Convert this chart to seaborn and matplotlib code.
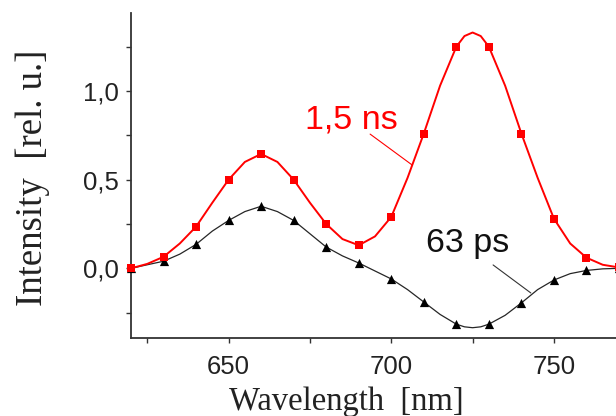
import numpy as np
import pandas as pd
import matplotlib
matplotlib.use("Agg")
import matplotlib.pyplot as plt
from matplotlib.ticker import FixedLocator
import seaborn as sns

# ---- data ----
# measured points (markers, every 10 nm)
marker_wavelength = [620, 630, 640, 650, 660, 670, 680, 690, 700, 710, 720, 730, 740, 750, 760, 770]
marker_15ns = [0.00, 0.065, 0.235, 0.50, 0.645, 0.50, 0.25, 0.13, 0.29, 0.76, 1.25, 1.25,
               0.76, 0.28, 0.06, 0.005]
marker_63ps = [0.00, 0.04, 0.135, 0.27, 0.35, 0.27, 0.12, 0.03, -0.06, -0.19, -0.315, -0.315,
               -0.195, -0.066, -0.012, 0.0]
# smooth curves
curve_wavelength = [620, 625, 630, 635, 640, 645, 650, 655, 660, 665, 670, 675, 680, 685, 690,
                    695, 700, 705, 710, 715, 720, 722.5, 725, 727.5, 730, 735, 740, 745, 750,
                    755, 760, 765, 770]
curve_15ns = [0.00, 0.025, 0.065, 0.14, 0.235, 0.37, 0.50, 0.60, 0.645, 0.60, 0.50, 0.37,
              0.25, 0.165, 0.13, 0.18, 0.29, 0.51, 0.76, 1.03, 1.25, 1.31, 1.33, 1.31, 1.25,
              1.03, 0.76, 0.51, 0.28, 0.14, 0.06, 0.02, 0.005]
curve_63ps = [0.00, 0.02, 0.04, 0.08, 0.135, 0.21, 0.27, 0.32, 0.35, 0.32, 0.27, 0.195,
              0.12, 0.07, 0.03, -0.015, -0.06, -0.12, -0.19, -0.26, -0.315, -0.33, -0.335,
              -0.33, -0.315, -0.265, -0.195, -0.12, -0.066, -0.03, -0.012, -0.003, 0.0]
x_major = [650, 700, 750]
x_minor = [625, 675, 725, 775]
y_major = [0.0, 0.5, 1.0]
y_major_labels = ["0,0", "0,5", "1,0"]
y_minor = [-0.25, 0.25, 0.75, 1.25]
label_red = "1,5 ns"
label_black = "63 ps"

curves = pd.DataFrame({"wavelength": curve_wavelength, "ns": curve_15ns, "ps": curve_63ps})
points = pd.DataFrame({"wavelength": marker_wavelength, "ns": marker_15ns, "ps": marker_63ps})

sns.set_style("ticks")
plt.rcParams["font.family"] = ["Liberation Sans", "DejaVu Sans"]
serif = ["Liberation Serif", "DejaVu Serif"]

fig = plt.figure(figsize=(6.16, 4.16), dpi=100)
ax = fig.add_axes([131 / 616, 1 - 338 / 416, (619 - 131) / 616, (338 - 13) / 416])

sns.lineplot(data=curves, x="wavelength", y="ps", ax=ax, color="#262626", lw=0.9,
             clip_on=False, zorder=3)
sns.scatterplot(data=points, x="wavelength", y="ps", ax=ax, color="black", marker="^",
                s=44, linewidth=0, clip_on=False, zorder=4)
sns.lineplot(data=curves, x="wavelength", y="ns", ax=ax, color="#ff0000", lw=1.4,
             clip_on=False, zorder=5)
sns.scatterplot(data=points, x="wavelength", y="ns", ax=ax, color="#ff0000", marker="s",
                s=32, linewidth=0, clip_on=False, zorder=6)

ax.set_xlim(620, 770)
ax.set_ylim(-0.393, 1.44)

ax.xaxis.set_major_locator(FixedLocator(x_major))
ax.xaxis.set_minor_locator(FixedLocator(x_minor))
ax.yaxis.set_major_locator(FixedLocator(y_major))
ax.yaxis.set_minor_locator(FixedLocator(y_minor))
ax.set_yticklabels(y_major_labels)

ax.tick_params(axis="both", which="both", direction="out", length=3.6, width=1.0,
               color="#333333", labelcolor="#222222", labelsize=18.5)
ax.tick_params(axis="x", which="both", pad=9)
ax.tick_params(axis="y", which="both", pad=5)
for s in ["top", "right"]:
    ax.spines[s].set_visible(False)
for s in ["left", "bottom"]:
    ax.spines[s].set_color("#333333")
    ax.spines[s].set_linewidth(1.3)

ax.set_xlabel("Wavelength  [nm]", family=serif, fontsize=23.5, color="#222222")
ax.xaxis.set_label_coords((346.5 - 131) / 488, -0.149, transform=ax.transAxes)
ax.xaxis.label.set_va("top")
ax.set_ylabel("Intensity  [rel. u.]", family=serif, fontsize=26.5, color="#222222")
ax.yaxis.set_label_coords(-(131 - 32.5) / 488, (338 - 177.5) / 325, transform=ax.transAxes)
ax.yaxis.label.set_va("center")

# labels with leader lines
ax.text(673.5, 0.79, label_red, color="#ff0000", fontsize=24.5, ha="left", va="baseline")
ax.annotate("", xy=(706.4, 0.583), xytext=(693.5, 0.757),
            arrowprops=dict(arrowstyle="-", color="#ff0000", lw=0.8, shrinkA=0, shrinkB=0))
ax.text(710.7, 0.094, label_black, color="#111111", fontsize=24.5, ha="left", va="baseline")
ax.annotate("", xy=(742.9, -0.139), xytext=(731.3, 0.019),
            arrowprops=dict(arrowstyle="-", color="#333333", lw=0.8, shrinkA=0, shrinkB=0))

fig.savefig("out.png", dpi=100)
